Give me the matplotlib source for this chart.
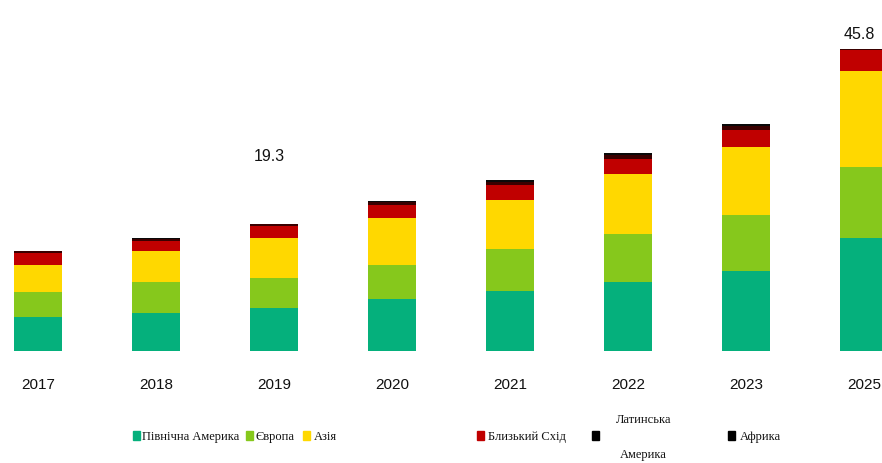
import numpy as np
import matplotlib.pyplot as plt
from matplotlib.patches import Rectangle

years = ['2017', '2018', '2019', '2020', '2021', '2022', '2023', '2025']
regions = ['Північна Америка', 'Європа', 'Азія', 'Близький Схід',
           'Латинська\nАмерика', 'Африка']
north_america = [5.2, 5.8, 6.5, 7.9, 9.1, 10.5, 12.1, 17.1]
europe = [3.8, 4.7, 4.6, 5.2, 6.4, 7.3, 8.5, 10.8]
asia = [4.1, 4.6, 6.0, 7.0, 7.4, 9.0, 10.3, 14.6]
middle_east = [1.8, 1.6, 1.8, 2.1, 2.3, 2.4, 2.7, 3.2]
latin_america = [0.2, 0.3, 0.3, 0.4, 0.5, 0.5, 0.6, 0.05]
africa = [0.1, 0.1, 0.1, 0.2, 0.3, 0.3, 0.3, 0.05]
labels = {'2019': '19.3', '2025': '45.8'}

colors = ['#05b07c', '#86c81c', '#ffd800', '#c00000', '#3a0000', '#0a0a0a']
series = [north_america, europe, asia, middle_east, latin_america, africa]

fig = plt.figure(figsize=(8.82, 4.64), dpi=100)
ax = fig.add_axes([0, 0.2414, 1, 0.7586])

x = np.arange(len(years))
bottom = np.zeros(len(years))
for vals, c in zip(series, colors):
    ax.bar(x, vals, 0.4, bottom=bottom, color=c, edgecolor='none')
    bottom += np.array(vals)

offsets = {'2019': 10.4, '2025': 2.3}
for yr, txt in labels.items():
    i = years.index(yr)
    ax.text(x[i] - 0.04, bottom[i] + offsets[yr], txt, ha='center', va='center',
            fontsize=11.5, color='#111', family='Liberation Sans')

ax.set_xlim(-0.322, 7.153)
ax.set_ylim(0, 53.4)
ax.set_xticks(x)
ax.set_xticklabels(years, fontsize=11, color='#111', family='Liberation Sans')
ax.tick_params(axis='x', length=0, pad=19)
ax.set_yticks([])
for s in ax.spines.values():
    s.set_visible(False)

# legend drawn by hand: irregular spacing in the original
H, W = 464, 882
leg = [(133, 142, 437), (246, 255, 437), (303, 314, 437), (477, 488, 437),
       (592, 616, 437), (728, 740, 437)]
for (sx, tx, ty), name, c in zip(leg, regions, colors[:4] + ['#000000', '#000000']):
    fig.add_artist(Rectangle((sx / W, 1 - (ty + 4) / H), 7 / W, 9 / H,
                             transform=fig.transFigure, color=c))
    if '\n' in name:
        a, b = name.split('\n')
        fig.text(tx / W, 1 - 420 / H, a, fontsize=9, family='Liberation Serif',
                 va='center', color='#111')
        fig.text((tx + 4) / W, 1 - 455 / H, b, fontsize=9, family='Liberation Serif',
                 va='center', color='#111')
    else:
        fig.text(tx / W, 1 - ty / H, name, fontsize=9, family='Liberation Serif',
                 va='center', color='#111')

fig.savefig('out.png', dpi=100)
